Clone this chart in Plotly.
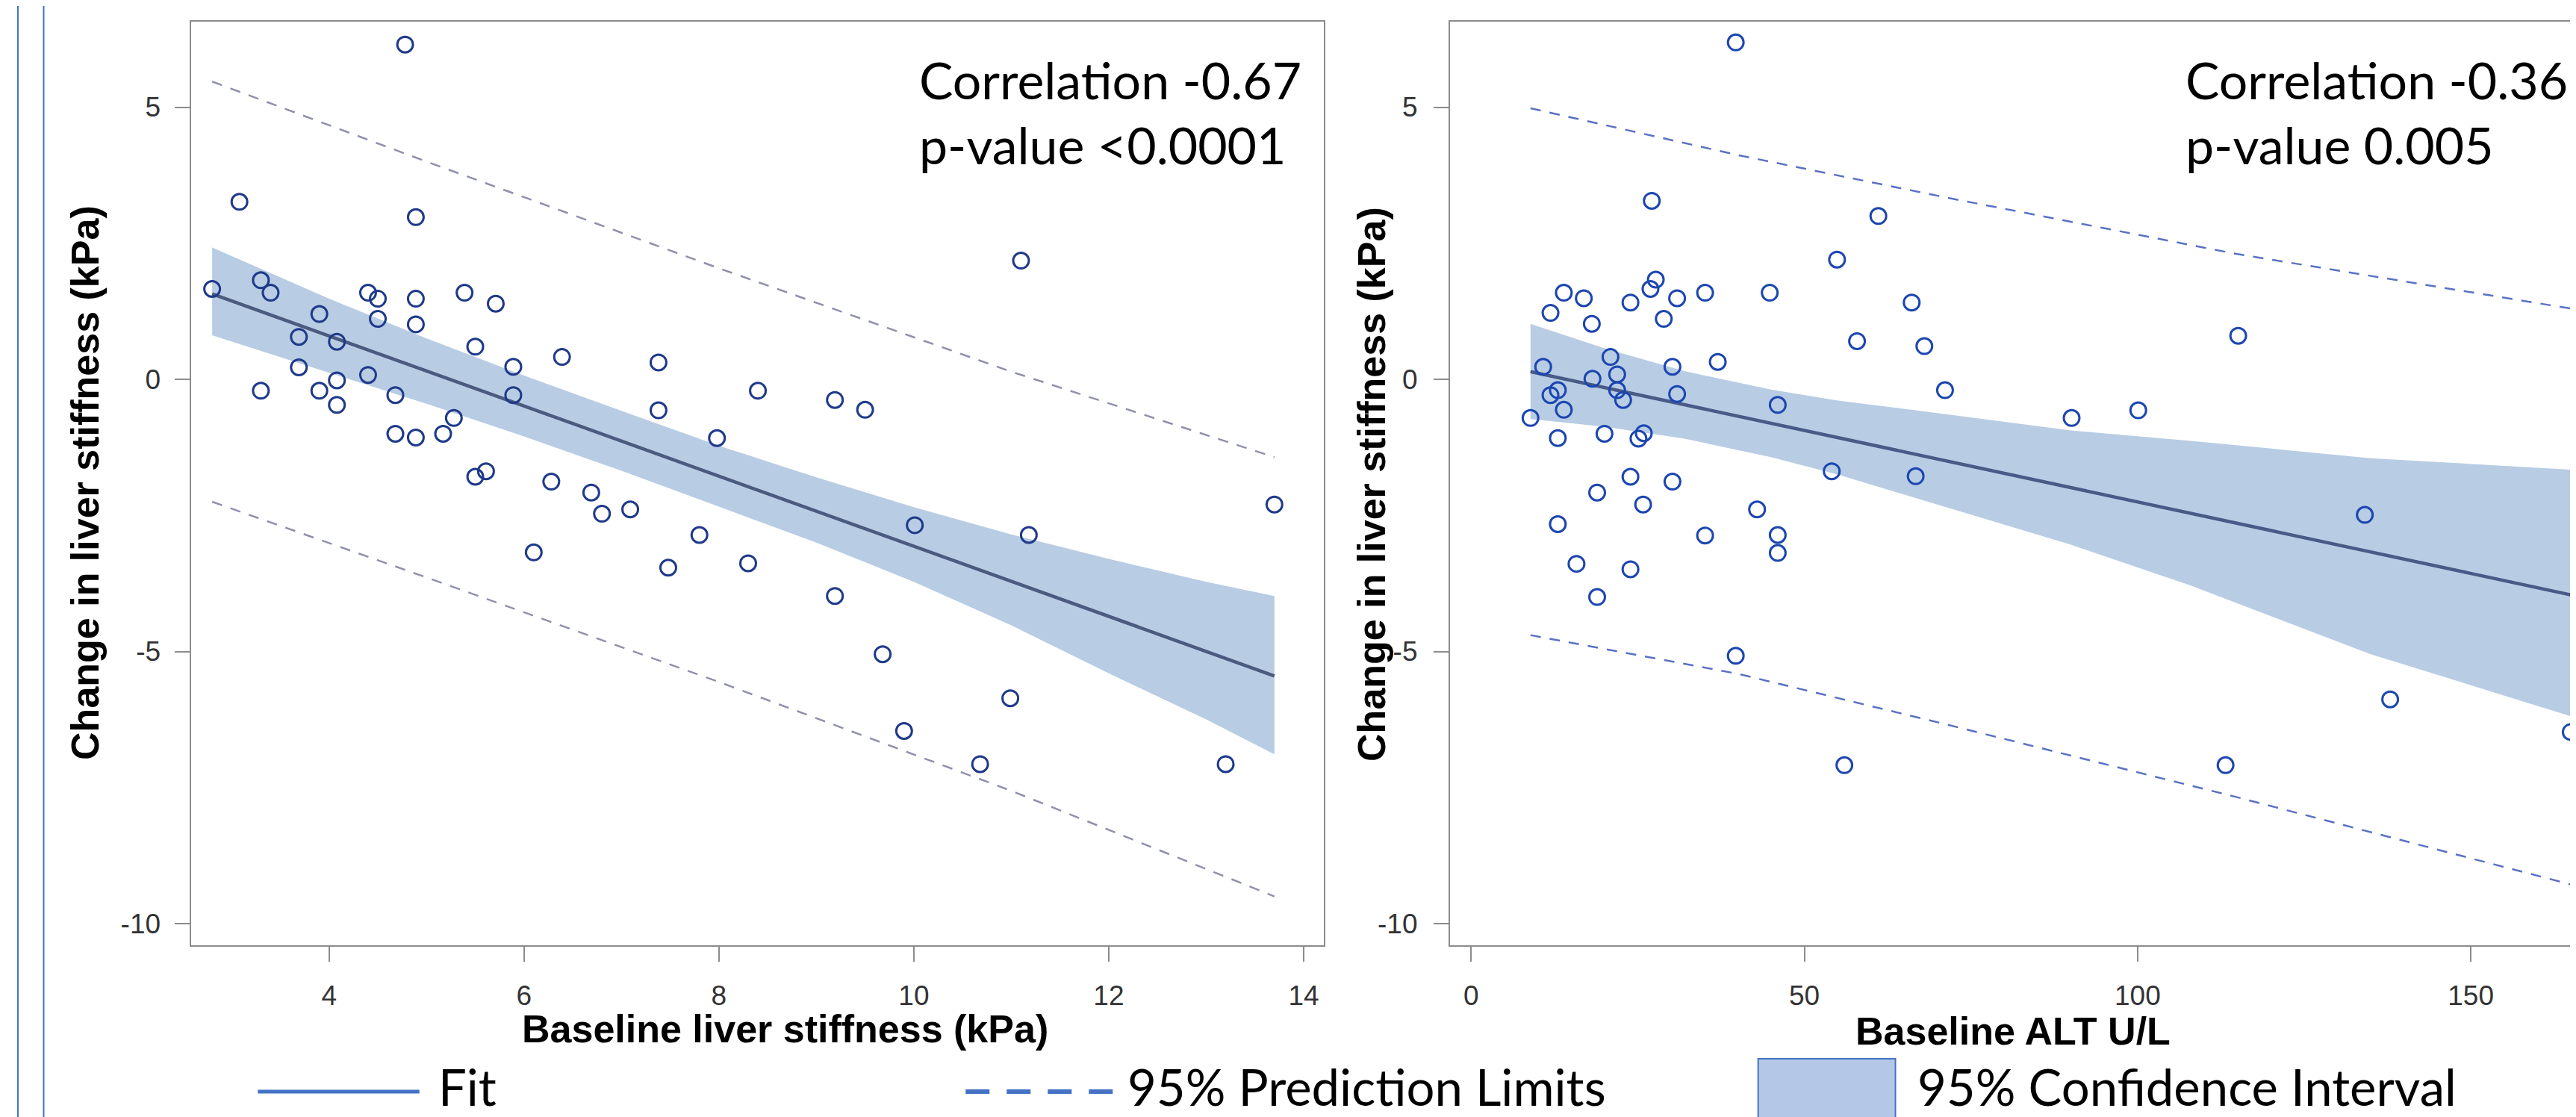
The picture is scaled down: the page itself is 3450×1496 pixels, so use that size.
import plotly.graph_objects as go

W, H = 3450, 1496

# ---------------- Left panel: baseline liver stiffness ----------------
ls_x = [2.80, 3.08, 3.30, 3.40, 3.30, 3.69, 3.69, 3.90, 3.90, 4.08, 4.08, 4.08, 4.40, 4.50, 4.50,
        4.40, 4.68, 4.68, 4.89, 4.78, 4.89, 4.89, 4.89, 5.17, 5.28, 5.39, 5.50, 5.50, 5.61, 5.71,
        5.89, 5.89, 6.10, 6.28, 6.39, 6.69, 6.80, 7.09, 7.38, 7.38, 7.48, 7.80, 7.98, 8.30, 8.40,
        9.19, 9.19, 9.50, 9.68, 9.90, 10.01, 10.68, 10.99, 11.10, 11.18, 13.20, 13.70]
ls_y = [1.66, 3.26, 1.82, 1.59, -0.21, 0.78, 0.22, 1.20, -0.21, 0.69, -0.02, -0.47, 1.59, 1.48, 1.11,
        0.08, -0.29, -1.00, -1.07, 6.15, 2.98, 1.48, 1.01, -1.00, -0.71, 1.59, 0.60, -1.79, -1.69, 1.39,
        0.23, -0.29, -3.18, -1.88, 0.41, -2.08, -2.47, -2.39, 0.31, -0.57, -3.46, -2.86, -1.08, -3.38, -0.21,
        -0.38, -3.98, -0.56, -5.05, -6.46, -2.68, -7.07, -5.86, 2.18, -2.86, -7.07, -2.30]
ls_fit_x = [2.8, 13.7]
ls_fit_y = [1.57, -5.45]
ls_ci_x = [2.8, 4, 5, 6, 7, 8, 9, 10, 11, 12, 13, 13.7]
ls_ci_upper = [2.42, 1.48, 0.75, 0.07, -0.58, -1.22, -1.80, -2.35, -2.85, -3.30, -3.72, -3.98]
ls_ci_lower = [0.81, 0.12, -0.45, -1.05, -1.68, -2.34, -3.00, -3.72, -4.52, -5.40, -6.25, -6.89]
ls_pi_x = [2.8, 5, 8, 11, 13.7]
ls_pi_upper = [5.47, 4.00, 2.04, 0.14, -1.43]
ls_pi_lower = [-2.25, -3.64, -5.56, -7.56, -9.50]
ls_xticks = [4, 6, 8, 10, 12, 14]

# ---------------- Right panel: baseline ALT ----------------
alt_x = [39.7, 27.1, 61.1, 54.9, 13.9, 16.9, 11.9, 18.1, 23.9, 27.7, 26.9, 30.9, 28.9, 35.1, 44.8,
         66.1, 57.9, 68.0, 20.9, 10.8, 30.2, 37.0, 21.9, 18.2, 13.0, 11.9, 21.9, 22.8, 30.9, 71.1,
         13.9, 46.0, 8.9, 13.0, 20.0, 25.1, 25.9, 54.1, 66.7, 23.9, 30.2, 18.9, 25.8, 42.9, 13.0,
         35.1, 46.0, 46.0, 15.8, 23.9, 18.9, 39.7, 56.0, 115.1, 90.1, 100.1, 134.1, 137.9, 113.2, 165.0]
alt_y = [6.19, 3.28, 3.00, 2.20, 1.59, 1.49, 1.22, 1.02, 1.41, 1.83, 1.66, 1.49, 1.11, 1.59, 1.59,
         1.41, 0.70, 0.61, 0.41, 0.23, 0.23, 0.32, 0.09, 0.01, -0.20, -0.29, -0.20, -0.38, -0.27, -0.20,
         -0.56, -0.47, -0.71, -1.08, -1.00, -1.09, -0.99, -1.69, -1.78, -1.79, -1.88, -2.08, -2.30, -2.39, -2.66,
         -2.87, -2.86, -3.19, -3.39, -3.49, -4.00, -5.08, -7.09, 0.80, -0.71, -0.57, -2.49, -5.88, -7.09, -6.48]
alt_fit_x = [8.9, 165.0]
alt_fit_y = [0.14, -3.96]
alt_ci_x = [8.9, 20, 32, 45, 55, 68, 90, 108, 135, 165]
alt_ci_upper = [1.02, 0.57, 0.15, -0.19, -0.39, -0.59, -0.94, -1.13, -1.45, -1.66]
alt_ci_lower = [-0.73, -0.87, -1.09, -1.43, -1.75, -2.23, -3.04, -3.79, -5.05, -6.19]
alt_pi_x = [8.9, 40, 71.3, 115, 165]
alt_pi_upper = [4.98, 4.12, 3.34, 2.30, 1.30]
alt_pi_lower = [-4.70, -5.41, -6.34, -7.68, -9.28]
alt_xticks = [0, 50, 100, 150]

y_ticks = [-10, -5, 0, 5]
y_ticktext = ["-10", "-5", "0", "5"]

# text
left_stats = ["Correlation -0.67", "p-value &lt;0.0001"]
right_stats = ["Correlation -0.36", "p-value 0.005"]
y_title = "Change in liver stiffness (kPa)"
left_x_title = "Baseline liver stiffness (kPa)"
right_x_title = "Baseline ALT U/L"
legend_labels = ["Fit", "95% Prediction Limits", "95% Confidence Interval"]


def X(px):
    return px / W


def Y(py):
    return 1 - py / H


BAND = "#b8cce4"
fig = go.Figure()


def add_panel(xa, ya, px_, py_, fx, fy, cx, cu, cl, pix, piu, pil, mcol, fitcol, picol):
    fig.add_trace(go.Scatter(x=cx + cx[::-1], y=cu + cl[::-1], fill="toself", fillcolor=BAND,
                             line=dict(width=0), mode="lines", xaxis=xa, yaxis=ya, hoverinfo="skip"))
    fig.add_trace(go.Scatter(x=pix, y=piu, mode="lines", xaxis=xa, yaxis=ya,
                             line=dict(color=picol, width=2.5, dash="14px,12px")))
    fig.add_trace(go.Scatter(x=pix, y=pil, mode="lines", xaxis=xa, yaxis=ya,
                             line=dict(color=picol, width=2.5, dash="14px,12px")))
    fig.add_trace(go.Scatter(x=fx, y=fy, mode="lines", xaxis=xa, yaxis=ya,
                             line=dict(color=fitcol, width=4.5)))
    fig.add_trace(go.Scatter(x=px_, y=py_, mode="markers", xaxis=xa, yaxis=ya,
                             marker=dict(symbol="circle-open", size=21, color=mcol,
                                         line=dict(width=3, color=mcol))))


add_panel("x", "y", ls_x, ls_y, ls_fit_x, ls_fit_y, ls_ci_x, ls_ci_upper, ls_ci_lower,
          ls_pi_x, ls_pi_upper, ls_pi_lower, "#1f3a8a", "#4b5a7e", "#8f90ab")
add_panel("x2", "y2", alt_x, alt_y, alt_fit_x, alt_fit_y, alt_ci_x, alt_ci_upper, alt_ci_lower,
          alt_pi_x, alt_pi_upper, alt_pi_lower, "#1c46b0", "#485a86", "#5b71c6")

ydom = [Y(1258), Y(21)]
axis_common = dict(showgrid=False, zeroline=False, showline=True, linecolor="#8c8c8c", linewidth=2,
                   mirror=True, ticks="outside", ticklen=20, tickwidth=2, tickcolor="#8c8c8c",
                   tickfont=dict(family="Liberation Sans, Arial, sans-serif", size=37, color="#333333"))

fig.update_layout(
    width=W, height=H, autosize=False,
    margin=dict(l=0, r=0, t=0, b=0),
    paper_bgcolor="white", plot_bgcolor="white", showlegend=False,
    xaxis=dict(domain=[X(248.6), X(1766)], range=[2.588, 14.207], tickvals=ls_xticks,
               anchor="y", ticklabelstandoff=14, **axis_common),
    yaxis=dict(domain=ydom, range=[-10.398, 6.571], tickvals=y_ticks, ticktext=y_ticktext,
               anchor="x", ticklabelstandoff=12, **axis_common),
    xaxis2=dict(domain=[X(1935), 1.0], range=[-3.19, 166.46], tickvals=alt_xticks,
                anchor="y2", ticklabelstandoff=14, **axis_common),
    yaxis2=dict(domain=ydom, range=[-10.398, 6.571], tickvals=y_ticks, ticktext=y_ticktext,
                anchor="x2", ticklabelstandoff=14, **axis_common),
)

CAL = "Lato, Carlito, Calibri, sans-serif"
ARB = "Liberation Sans, Arial, sans-serif"
ann = []
for t, yy in zip(left_stats, [98, 186]):
    ann.append(dict(text=t, x=X(1222), y=Y(yy), xanchor="left", yanchor="middle"))
for t, yy in zip(right_stats, [98, 186]):
    ann.append(dict(text=t, x=X(2919), y=Y(yy), xanchor="left", yanchor="middle"))
for a in ann:
    a.update(xref="paper", yref="paper", showarrow=False, font=dict(family=CAL, size=68, color="black"))

titles = [
    dict(text="<b>%s</b>" % y_title, x=X(106), y=Y(638), textangle=-90),
    dict(text="<b>%s</b>" % y_title, x=X(1830), y=Y(640), textangle=-90),
    dict(text="<b>%s</b>" % left_x_title, x=X(1044), y=Y(1370)),
    dict(text="<b>%s</b>" % right_x_title, x=X(2690), y=Y(1373)),
]
for a in titles:
    a.update(xref="paper", yref="paper", showarrow=False, xanchor="center", yanchor="middle",
             font=dict(family=ARB, size=52, color="black"))
ann += titles

for t, xx in zip(legend_labels, [577, 1501, 2559]):
    ann.append(dict(text=t, x=X(xx), y=Y(1447), xref="paper", yref="paper", showarrow=False,
                    xanchor="left", yanchor="middle", font=dict(family=CAL, size=67, color="black")))

fig.update_layout(annotations=ann)

shapes = [
    # slide border lines
    dict(type="line", xref="paper", yref="paper", x0=X(16), x1=X(16), y0=0, y1=1,
         line=dict(color="#4472c4", width=2)),
    dict(type="line", xref="paper", yref="paper", x0=X(50.5), x1=X(50.5), y0=0, y1=1,
         line=dict(color="#4472c4", width=2)),
    # legend symbols
    dict(type="line", xref="paper", yref="paper", x0=X(337.5), x1=X(554), y0=Y(1454), y1=Y(1454),
         line=dict(color="#4472c4", width=5)),
    dict(type="line", xref="paper", yref="paper", x0=X(1286), x1=X(1484), y0=Y(1454), y1=Y(1454),
         line=dict(color="#4472c4", width=6, dash="32px,23px")),
    dict(type="rect", xref="paper", yref="paper", x0=X(2348), x1=X(2532), y0=Y(1510), y1=Y(1410),
         fillcolor="#b4c7e7", line=dict(color="#4472c4", width=2)),
]
fig.update_layout(shapes=shapes)

fig.write_html("out.html")
